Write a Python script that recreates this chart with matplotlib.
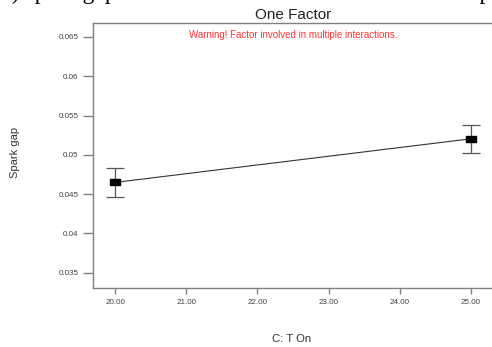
import matplotlib
matplotlib.use("Agg")
import matplotlib.pyplot as plt
from matplotlib.path import Path

# %% data
t_on = [20.0, 25.0]
spark_gap = [0.04649, 0.05204]
ci_half = [0.00187, 0.00180]
x_ticks = [20, 21, 22, 23, 24, 25]
y_ticks = [0.035, 0.04, 0.045, 0.05, 0.055, 0.06, 0.065]
y_tick_labels = ["0.035", "0.04", "0.045", "0.05", "0.055", "0.06", "0.065"]

plt.rcParams["font.family"] = ["Liberation Sans", "DejaVu Sans"]

fig = plt.figure(figsize=(4.92, 3.47), dpi=100)
ax = fig.add_axes([93 / 492, 59 / 347, 400 / 492, 265 / 347])

# caption of the page, cut off at the top edge
fig.text(-8 / 492, 1 + 1.5 / 347,
         "(b) spark gap vs T On for the one factor interaction plot",
         family="Liberation Serif", fontsize=17, va="baseline", ha="left")

box = Path([(-1, -0.6), (1, -0.6), (1, 0.6), (-1, 0.6), (-1, -0.6)],
           [Path.MOVETO, Path.LINETO, Path.LINETO, Path.LINETO, Path.CLOSEPOLY])

ax.plot(t_on, spark_gap, color="#333333", lw=0.8, zorder=2)
ax.errorbar(t_on, spark_gap, yerr=ci_half, fmt="none", ecolor="#555555",
            elinewidth=0.9, capsize=6.5, capthick=0.9, zorder=3)
ax.plot(t_on, spark_gap, ls="none", marker=box, ms=6.8, color="black", zorder=4)

ax.set_xlim(19.69, 25.31)
ax.set_ylim(0.03305, 0.06678)
ax.set_xticks(x_ticks)
ax.set_xticklabels([f"{v:.2f}" for v in x_ticks])
ax.set_yticks(y_ticks)
ax.set_yticklabels(y_tick_labels)

for s in ax.spines.values():
    s.set_color("#808080")
    s.set_linewidth(1.0)
ax.tick_params(axis="y", length=7.5, width=1.0, color="#808080", pad=3,
               labelsize=5.8, labelcolor="#404040")
ax.tick_params(axis="x", length=4, width=1.0, color="#808080", pad=4,
               labelsize=5.8, labelcolor="#404040")

ax.set_title("One Factor", fontsize=11, color="#222222", pad=3)
ax.text(0.5, 0.955, "Warning! Factor involved in multiple interactions.",
        transform=ax.transAxes, ha="center", va="center", fontsize=7,
        color="#ff3333")

ax.set_ylabel("Spark gap", fontsize=8, color="#333333")
ax.yaxis.set_label_coords(-0.182, 0.51)
ax.set_xlabel("C: T On", fontsize=8.2, color="#333333")
ax.xaxis.set_label_coords(0.497, -0.172)

fig.savefig("out.png", dpi=100)
